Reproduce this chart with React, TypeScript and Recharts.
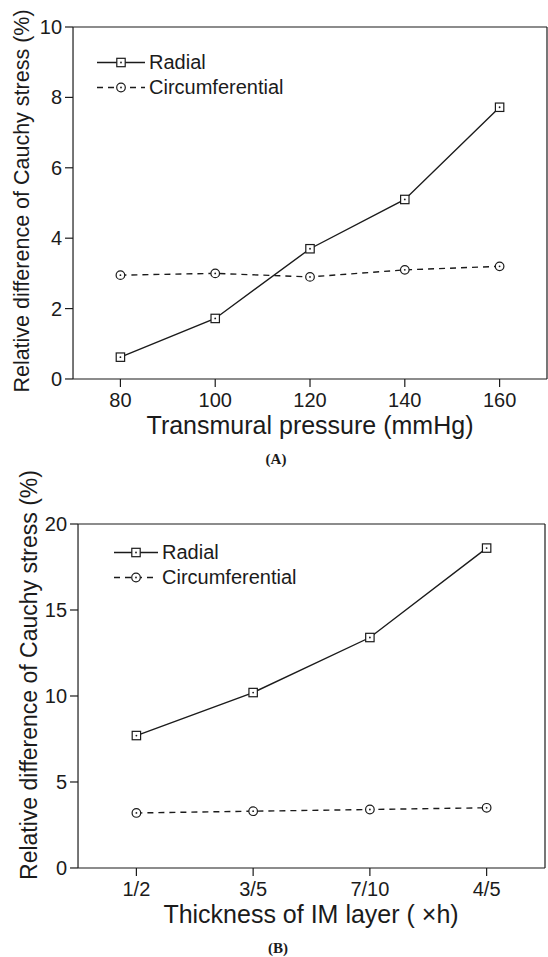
import React from "react";
import { LineChart, Line, XAxis, YAxis, Legend } from "recharts";

// Panel A: stress difference vs transmural pressure
const pressure = [80, 100, 120, 140, 160];
const radialA = [0.62, 1.72, 3.7, 5.1, 7.72];
const circA = [2.95, 3.0, 2.9, 3.1, 3.2];
const pressureTicks = [80, 100, 120, 140, 160];
const pressureMinor = [90, 110, 130, 150];
const stressTicksA = [0, 2, 4, 6, 8, 10];
const stressMinorA = [1, 3, 5, 7, 9];

// Panel B: stress difference vs IM layer thickness
const thickness = ["1/2", "3/5", "7/10", "4/5"];
const radialB = [7.7, 10.2, 13.4, 18.6];
const circB = [3.2, 3.3, 3.4, 3.5];
const thicknessTicks = [1, 2, 3, 4];
const thicknessMinor = [1.5, 2.5, 3.5];
const stressTicksB = [0, 5, 10, 15, 20];
const stressMinorB = [2.5, 7.5, 12.5, 17.5];

const FONT = '"Liberation Sans", Arial, Helvetica, sans-serif';
const INK = "#1b1b1b";
const DASH = "6 5";
const THIN = 0.01; // axes need a non-zero box to render, but should take no room
const tickFont = { fontSize: 20, fill: INK, fontFamily: FONT };
const axisStroke = { stroke: INK, strokeWidth: 1.2 };

const dataA = pressure.map((p, i) => ({ x: p, radial: radialA[i], circ: circA[i] }));
const dataB = thickness.map((_, i) => ({ x: i + 1, radial: radialB[i], circ: circB[i] }));

function Marker({ shape, cx, cy }: { shape: string; cx: number; cy: number }) {
  if (cx == null || cy == null) return null;
  return (
    <g>
      {shape === "square" ? (
        <rect x={cx - 4.2} y={cy - 4.2} width={8.4} height={8.4} fill="#fff" stroke={INK} strokeWidth={1.2} />
      ) : (
        <circle cx={cx} cy={cy} r={4.3} fill="#fff" stroke={INK} strokeWidth={1.2} />
      )}
      <circle cx={cx} cy={cy} r={0.9} fill={INK} />
    </g>
  );
}

const legendItems = [
  { name: "Radial", shape: "square", dash: undefined },
  { name: "Circumferential", shape: "circle", dash: DASH },
];

function LegendRows({ lineLen }: { lineLen: number }) {
  return (
    <div style={{ fontFamily: FONT, fontSize: 20, color: INK }}>
      {legendItems.map((s) => (
        <div key={s.name} style={{ display: "flex", alignItems: "center", height: 25 }}>
          <svg width={lineLen + 4} height={25} style={{ display: "block" }}>
            <line x1={2} x2={lineLen + 2} y1={12.5} y2={12.5} stroke={INK} strokeWidth={1.3} strokeDasharray={s.dash} />
            <Marker shape={s.shape} cx={lineLen / 2 + 2} cy={12.5} />
          </svg>
          <span style={{ marginLeft: 2, lineHeight: "25px", whiteSpace: "nowrap" }}>{s.name}</span>
        </div>
      ))}
    </div>
  );
}

// box frame: labelled bottom/left axes plus mirrored top/right ticks, majors and minors
function frameAxes(
  xDomain: number[],
  xTicks: number[],
  xMinor: number[],
  yDomain: number[],
  yTicks: number[],
  yMinor: number[],
  xFormat?: (v: number) => string
) {
  const common = { type: "number" as const, allowDataOverflow: true, interval: 0 as const };
  return [
    <XAxis key="x" xAxisId="x" dataKey="x" {...common} domain={xDomain} ticks={xTicks} height={THIN}
      tickSize={8} tickMargin={6} tick={tickFont} tickFormatter={xFormat} axisLine={axisStroke} tickLine={axisStroke} />,
    <XAxis key="xm" xAxisId="xm" dataKey="x" {...common} domain={xDomain} ticks={xMinor} height={THIN}
      tickSize={5} tick={false} axisLine={false} tickLine={axisStroke} />,
    <XAxis key="xt" xAxisId="xt" dataKey="x" {...common} orientation="top" mirror domain={xDomain} ticks={xTicks} height={THIN}
      tickSize={8} tick={false} axisLine={axisStroke} tickLine={axisStroke} />,
    <XAxis key="xtm" xAxisId="xtm" dataKey="x" {...common} orientation="top" mirror domain={xDomain} ticks={xMinor} height={THIN}
      tickSize={5} tick={false} axisLine={false} tickLine={axisStroke} />,
    <YAxis key="y" yAxisId="y" {...common} domain={yDomain} ticks={yTicks} width={THIN}
      tickSize={8} tickMargin={3} tick={tickFont} axisLine={axisStroke} tickLine={axisStroke} />,
    <YAxis key="ym" yAxisId="ym" {...common} domain={yDomain} ticks={yMinor} width={THIN}
      tickSize={5} tick={false} axisLine={false} tickLine={axisStroke} />,
    <YAxis key="yr" yAxisId="yr" {...common} orientation="right" mirror domain={yDomain} ticks={yTicks} width={THIN}
      tickSize={8} tick={false} axisLine={axisStroke} tickLine={axisStroke} />,
    <YAxis key="yrm" yAxisId="yrm" {...common} orientation="right" mirror domain={yDomain} ticks={yMinor} width={THIN}
      tickSize={5} tick={false} axisLine={false} tickLine={axisStroke} />,
  ];
}

function seriesLines() {
  return [
    <Line key="radial" xAxisId="x" yAxisId="y" dataKey="radial" stroke={INK} strokeWidth={1.4}
      isAnimationActive={false} legendType="none"
      dot={(p: any) => <Marker key={`r${p.index}`} shape="square" cx={p.cx} cy={p.cy} />} />,
    <Line key="circ" xAxisId="x" yAxisId="y" dataKey="circ" stroke={INK} strokeWidth={1.4} strokeDasharray={DASH}
      isAnimationActive={false} legendType="none"
      dot={(p: any) => <Marker key={`c${p.index}`} shape="circle" cx={p.cx} cy={p.cy} />} />,
  ];
}

const abs = (style: React.CSSProperties): React.CSSProperties => ({ position: "absolute", ...style });
const yTitle: React.CSSProperties = {
  fontFamily: FONT,
  color: INK,
  lineHeight: 1,
  whiteSpace: "nowrap",
  transform: "translate(-50%, -50%) rotate(-90deg)",
};
const xTitle: React.CSSProperties = {
  fontFamily: FONT,
  fontSize: 25,
  color: INK,
  lineHeight: 1,
  whiteSpace: "nowrap",
  transform: "translate(-50%, -50%)",
};
const panelTag: React.CSSProperties = {
  fontFamily: '"Liberation Serif", "Times New Roman", serif',
  fontWeight: "bold",
  fontSize: 15,
  color: INK,
  lineHeight: 1,
  transform: "translate(-50%, -50%)",
};

export default function App() {
  return (
    <div style={abs({ left: 0, top: 0, width: 548, height: 957, background: "#fff", overflow: "hidden" })}>
      <div style={abs({ left: 0, top: 0 })}>
        <LineChart width={548} height={470} data={dataA} margin={{ top: 27, right: 1, bottom: 91, left: 73 }}>
          {frameAxes([70, 170], pressureTicks, pressureMinor, [0, 10], stressTicksA, stressMinorA)}
          {seriesLines()}
          <Legend layout="vertical" align="center" verticalAlign="middle"
            wrapperStyle={{ left: 95, top: 49.5, width: "auto" }}
            content={() => <LegendRows lineLen={48} />} />
        </LineChart>
      </div>
      <div style={abs({ left: 23, top: 201, ...yTitle, fontSize: 21.5 })}>Relative difference of Cauchy stress (%)</div>
      <div style={abs({ left: 310, top: 425, ...xTitle })}>Transmural pressure (mmHg)</div>
      <div style={abs({ left: 276, top: 459, ...panelTag })}>(A)</div>

      <div style={abs({ left: 0, top: 470 })}>
        <LineChart width={548} height={487} data={dataB} margin={{ top: 54, right: 3, bottom: 89, left: 78 }}>
          {frameAxes([0.5, 4.5], thicknessTicks, thicknessMinor, [0, 20], stressTicksB, stressMinorB,
            (v) => thickness[v - 1] ?? "")}
          {seriesLines()}
          <Legend layout="vertical" align="center" verticalAlign="middle"
            wrapperStyle={{ left: 112, top: 69.5, width: "auto" }}
            content={() => <LegendRows lineLen={44} />} />
        </LineChart>
      </div>
      <div style={abs({ left: 29, top: 675, ...yTitle, fontSize: 23 })}>Relative difference of Cauchy stress (%)</div>
      <div style={abs({ left: 311, top: 914, ...xTitle })}>Thickness of IM layer ( ×h)</div>
      <div style={abs({ left: 278, top: 948, ...panelTag })}>(B)</div>
    </div>
  );
}
